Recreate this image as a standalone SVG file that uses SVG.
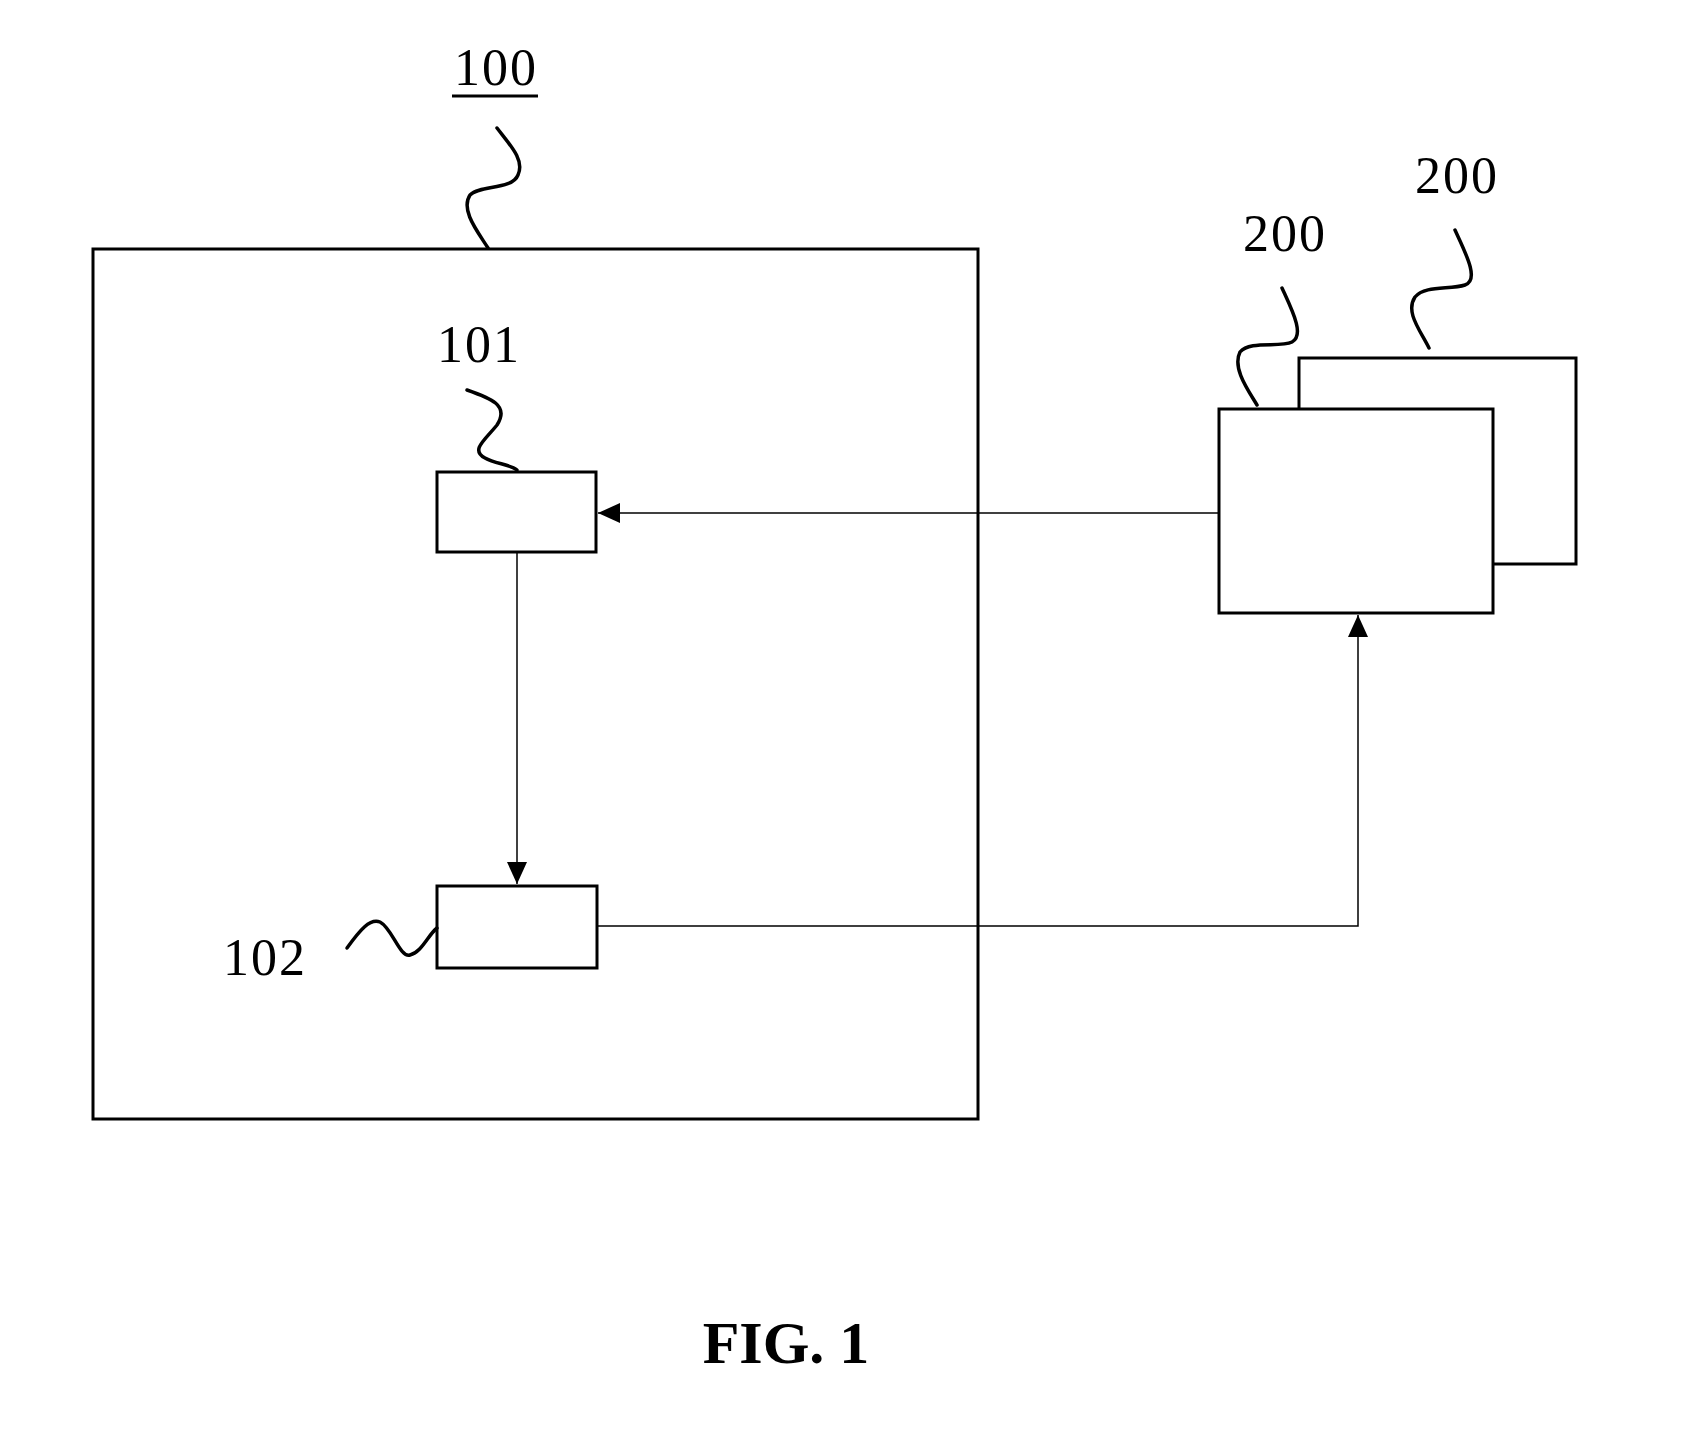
<svg xmlns="http://www.w3.org/2000/svg" width="1691" height="1439" viewBox="0 0 1691 1439">
<style>
.box{fill:#fff;stroke:#000;stroke-width:3}
.lead{fill:none;stroke:#000;stroke-width:3.5;stroke-linecap:round}
.conn{fill:none;stroke:#000;stroke-width:1.5}
.lbl{font-family:"Liberation Serif","Times New Roman",serif;font-size:52px;letter-spacing:2px;fill:#000;text-anchor:middle}
.fig{font-family:"Liberation Serif","Times New Roman",serif;font-size:60px;font-weight:bold;fill:#000;text-anchor:middle}
</style>
<defs>
<marker id="arr" markerWidth="22" markerHeight="20" refX="22" refY="10" orient="auto" markerUnits="userSpaceOnUse">
<path d="M0,0 L22,10 L0,20 Z" fill="#000"/>
</marker>
</defs>
<rect width="1691" height="1439" fill="#fff"/>
<g id="n100">
<rect class="box" x="93" y="249" width="885" height="870"/>
<path class="lead" d="M497,128 C510,145 525,160 518,175 C512,190 480,185 470,195 C460,210 478,232 488,248"/>
<text class="lbl" x="496" y="85">100</text>
<line x1="452" y1="96" x2="538" y2="96" stroke="#000" stroke-width="3"/>
</g>
<g id="n101">
<rect class="box" x="437" y="472" width="159" height="80"/>
<path class="lead" d="M467,390 C490,398 510,405 497,425 C485,440 470,450 485,458 C495,464 510,464 517,470"/>
<text class="lbl" x="479" y="362">101</text>
</g>
<g id="n102">
<rect class="box" x="437" y="886" width="160" height="82"/>
<path class="lead" d="M347,948 C360,930 370,918 380,922 C392,928 400,958 410,955 C422,952 428,935 437,928"/>
<text class="lbl" x="265" y="975">102</text>
</g>
<g id="n200b">
<rect class="box" x="1299" y="358" width="277" height="206"/>
<path class="lead" d="M1455,230 C1465,252 1480,280 1465,285 C1450,290 1425,285 1415,297 C1405,312 1420,330 1429,348"/>
<text class="lbl" x="1457" y="193">200</text>
</g>
<g id="n200a">
<rect class="box" x="1219" y="409" width="274" height="204"/>
<path class="lead" d="M1282,288 C1292,310 1305,335 1292,342 C1280,348 1250,340 1240,352 C1232,368 1248,390 1257,405"/>
<text class="lbl" x="1285" y="251">200</text>
</g>
<g id="connectors">
<line class="conn" x1="1219" y1="513" x2="598" y2="513" marker-end="url(#arr)"/>
<line class="conn" x1="517" y1="552" x2="517" y2="884" marker-end="url(#arr)"/>
<polyline class="conn" points="597,926 1358,926 1358,615" marker-end="url(#arr)"/>
</g>
<text class="fig" x="786" y="1363">FIG. 1</text>
</svg>
